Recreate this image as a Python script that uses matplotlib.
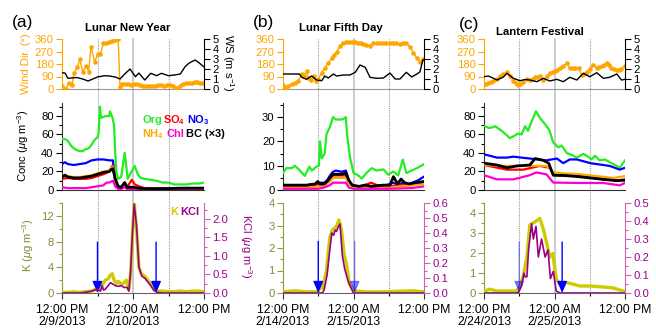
import numpy as np
import matplotlib
matplotlib.use("Agg")
import matplotlib.pyplot as plt
from matplotlib.lines import Line2D
from matplotlib import transforms
from matplotlib.ticker import MultipleLocator, FormatStrFormatter

plt.rcParams['font.family'] = ['Liberation Sans', 'DejaVu Sans']
plt.rcParams['mathtext.fontset'] = 'custom'
plt.rcParams['mathtext.rm'] = 'Liberation Sans'
plt.rcParams['mathtext.bf'] = 'Liberation Sans:bold'
plt.rcParams['mathtext.it'] = 'Liberation Sans:italic'

# ---------------- data (hours after 12:00 PM) ----------------
panel_letters = ["(a)", "(b)", "(c)"]
panel_titles = ["Lunar New Year", "Lunar Fifth Day", "Lantern Festival"]
xtick_hours = [0, 12, 24]
xtick_labels_a = ["12:00 PM\n2/9/2013", "12:00 AM\n2/10/2013", "12:00 PM"]
xtick_labels_b = ["12:00 PM\n2/14/2013", "12:00 AM\n2/15/2013", "12:00 PM"]
xtick_labels_c = ["12:00 PM\n2/24/2013", "12:00 AM\n2/25/2013", "12:00 PM"]
grid_hours = [6, 12, 18]

# --- panel a ---
a_wd_h = [0, 0.6, 1.2, 1.7, 2.0, 2.6, 3.0, 3.5, 4.1, 4.5, 4.9, 5.5, 6.1, 6.5, 7.0, 7.5, 7.9, 8.4, 9.0, 9.5,
          9.8, 10.2, 10.7, 11.2, 11.7, 12.2, 12.7, 13.2, 13.7, 14.2, 14.7, 15.2, 15.7, 16.2, 16.7, 17.2, 17.7,
          18.2, 18.7, 19.2, 19.5, 19.9, 20.4, 20.9, 21.4, 21.9, 22.4, 22.9, 23.4, 23.9]
a_wd = [22, 2, 46, 29, 113, 156, 213, 125, 165, 125, 305, 197, 252, 249, 329, 333, 338, 346, 350, 357,
        15, 35, 35, 33, 32, 33, 35, 30, 22, 20, 20, 22, 25, 27, 28, 25, 27,
        26, 22, 8, 2, 25, 38, 40, 40, 42, 50, 48, 45, 40]
a_ws_h = [0, 0.5, 1.0, 1.5, 2.5, 3.5, 4.4, 5.0, 6.0, 7.2, 8.0, 9.0, 9.8, 10.6, 11.5, 12.4, 13.0, 13.4, 14.0,
          15.0, 16.0, 16.8, 18.0, 19.0, 20.0, 20.8, 21.5, 22.5, 23.2, 24.0]
a_ws = [1.63, 1.6, 1.07, 1.1, 1.15, 1.0, 0.8, 0.95, 1.2, 1.33, 1.3, 1.2, 1.0, 1.5, 2.0, 1.23, 1.6, 1.3, 0.9,
        1.57, 1.33, 1.57, 1.33, 1.4, 1.5, 2.23, 2.6, 2.9, 2.6, 2.2]

a_org_h = [0, 0.5, 1, 1.5, 2, 2.5, 3, 3.5, 4, 4.5, 5, 5.5, 6, 6.2, 6.4, 6.6, 7, 7.5, 8, 8.1, 8.5, 8.8,
           9.0, 9.2, 9.5, 10.0, 10.6, 11.1, 11.6, 12.3, 12.8, 13.3, 14, 15, 16, 17, 18, 19, 20, 21, 22, 23, 24]
a_org = [55, 55, 53, 48, 45, 43, 42, 42, 44, 45, 49, 54, 57, 62, 90, 78, 79, 80, 80, 85, 79, 70,
         40, 20, 12, 14, 40, 12, 18, 26, 17, 13, 12, 11, 10, 8, 8, 6, 6, 6, 7, 7, 8]
a_no3_h = [0, 0.5, 1, 2, 3, 4, 5, 6, 7, 8, 8.6, 9.0, 9.5, 10, 10.6, 11, 12, 13, 14, 16, 18, 20, 22, 24]
a_no3 = [28, 30, 28, 27, 28, 29, 32, 33, 33, 32, 32, 10, 3, 3, 8, 3, 2, 2, 2, 2, 1.5, 1.5, 2, 2]
a_bc_h = [0, 0.5, 1, 2, 3, 4, 5, 6, 7, 8, 8.3, 8.6, 9, 9.5, 10, 10.6, 11, 12, 13, 14, 16, 18, 20, 22, 24]
a_bc = [14, 16, 14, 13, 13, 14, 15, 17, 19, 20, 22, 23, 12, 4, 3, 8, 3, 3, 2, 1.5, 1.5, 1.5, 2, 2, 2]
a_nh4 = [15, 16, 15, 14, 14, 15, 16, 18, 20, 21, 24, 25, 10, 2, 1, 5, 1, 2, 2, 1.5, 1.5, 1, 1.5, 1.5, 1.5]
a_so4_h = [0, 1, 2, 3, 4, 5, 6, 7, 8, 8.3, 8.6, 9, 9.5, 10, 10.6, 11, 11.8, 12.3, 13, 14, 16, 18, 20, 22, 24]
a_so4 = [12, 13, 12, 12, 12, 13, 15, 17, 20, 24, 27, 10, 3, 2, 6, 3, 11, 6, 4, 2, 1.5, 1.5, 1.5, 1.5, 1.5]
a_chl_h = [0, 1, 2, 3, 4, 5, 6, 7, 7.5, 8, 8.6, 9, 9.5, 10, 10.6, 11, 12, 14, 16, 18, 20, 22, 24]
a_chl = [3, 2, 2, 2, 2, 3, 4, 5, 8, 8, 10, 4, 1, 1, 3, 1, 1, 0.8, 0.5, 0.5, 0.5, 0.5, 0.5]

a_k_h = [0, 1, 2, 3, 4, 5, 5.5, 6, 6.5, 7, 7.3, 7.8, 8.2, 8.5, 8.8, 9.2, 9.5, 10, 10.4, 10.9, 11.3, 11.6,
         11.9, 12.2, 12.6, 13.0, 13.4, 14, 14.5, 15, 15.6, 16, 17, 18, 19, 20, 21, 22, 23, 24]
a_k = [0.1, 0.1, 0.2, 0.1, 0.2, 0.3, 0.5, 0.5, 1.0, 1.5, 2.0, 2.2, 2.8, 3.0, 2.0, 1.5, 1.8, 1.4, 1.5, 2.0, 0.5, 3.0,
       9.0, 14.0, 10.0, 4.0, 3.0, 2.6, 2.0, 1.4, 0.5, 0.3, 0.3, 0.2, 0.2, 0.3, 0.2, 0.3, 0.3, 0.2]
a_kcl_h = [0, 1, 2, 3, 4, 5, 5.5, 6, 6.5, 6.8, 7, 7.3, 7.8, 8.2, 8.5, 9, 9.5, 10, 10.5, 11, 11.3, 11.6, 11.9,
           12.2, 12.6, 13, 13.5, 14, 14.5, 15, 15.5, 16, 17, 24]
a_kcl = [0, 0, 0, 0, 0.02, 0.05, 0.08, 0.1, 0.05, 0.2, 0.08, 0.1, 0.2, 0.28, 0.25, 0.2, 0.18, 0.2, 0.15, 0.15,
         0.05, 0.6, 1.6, 2.4, 1.8, 0.7, 0.45, 0.4, 0.3, 0.2, 0.08, 0.02, 0, 0]
a_arrow_h = [6.0, 15.9]
a_arrow_top = [7.9, 7.9]

# --- panel b ---
b_wd_h = [0, 0.34, 0.9, 1.5, 2.0, 2.6, 3.2, 3.6, 4.0, 4.3, 4.7, 5.2, 5.6, 6.0, 6.6, 7.1, 7.7, 8.3, 8.7, 9.2,
          9.7, 10.2, 10.7, 11.2, 11.7, 12.2, 12.7, 13.2, 13.7, 14.2, 14.8, 15.4, 16.0, 16.5, 17.0, 17.6, 18.2,
          18.7, 19.3, 19.9, 20.5, 21.0, 21.6, 22.2, 22.8, 23.3, 23.9]
b_wd = [29, 5, 22, 36, 46, 58, 108, 94, 130, 77, 65, 94, 55, 70, 118, 149, 190, 221, 245, 269,
        310, 334, 341, 340, 338, 336, 332, 328, 322, 317, 312, 329, 332, 330, 334, 334, 330,
        332, 328, 324, 328, 329, 305, 262, 221, 197, 214]
b_ws_h = [0, 1, 2, 2.8, 3.2, 4.0, 4.9, 5.7, 6.6, 7.1, 7.7, 8.6, 9.1, 10.3, 11.4, 12.3, 13.1, 14.0, 14.8, 15.9,
          17.1, 18.2, 19.1, 19.9, 21.0, 21.9, 22.8, 23.3, 23.8, 24.0]
b_ws = [1.5, 1.5, 1.5, 1.5, 1.17, 0.97, 1.3, 0.9, 0.83, 1.3, 1.1, 1.5, 1.3, 1.4, 1.4, 1.67, 2.4, 2.17, 1.17, 1.07,
        1.1, 1.6, 1.0, 1.0, 1.67, 1.2, 1.5, 1.7, 2.9, 2.9]

b_org_h = [0, 0.6, 1.5, 2.0, 2.9, 3.7, 4.5, 4.9, 5.7, 6.1, 6.3, 6.6, 7.1, 7.4, 8.0, 8.5, 9.0, 9.5, 10.0, 10.5,
           10.7, 10.9, 11.4, 12.0, 12.8, 13.4, 14.2, 15.1, 15.9, 17.1, 17.9, 18.8, 19.6, 20.4, 21.0, 21.9, 22.8, 23.9]
b_org = [7, 9, 9, 10, 8, 5.8, 9.6, 8, 9.6, 10, 20, 13, 15, 23, 26, 30, 29, 29, 29, 29.5,
         30, 23, 13.5, 7, 6, 4.7, 7, 9, 8, 8.5, 6.3, 7.6, 6, 12.5, 7, 8, 9, 10.5]
b_no3_h = [0, 2, 4, 5.5, 6, 7, 7.5, 8, 8.5, 9, 10, 10.7, 11.2, 11.8, 13, 15, 17, 18.8, 19.5, 20.4, 21, 22, 23, 24]
b_no3 = [2, 2, 2, 2.5, 3, 3, 4, 6, 7.5, 8, 7.5, 8, 4, 1.5, 1.5, 1.5, 1.5, 3, 2, 3, 2, 3, 4, 5.5]
b_bc_h = [0, 2, 4, 5.5, 5.9, 6.3, 7, 7.5, 8, 8.5, 9, 10, 10.7, 11.2, 11.8, 13, 14, 15, 17, 18.2, 18.8, 19.5,
          20.1, 20.7, 21.5, 22.5, 24]
b_bc = [2, 2, 2, 2.5, 3.5, 2.5, 2.5, 3.5, 5, 6.5, 6.5, 6.5, 7, 4, 2, 1.5, 2, 1.5, 2, 2, 5.5, 2.5,
        4.5, 3, 2.5, 3, 3.5]
b_nh4_h = [0, 4, 6, 7, 8, 8.5, 10, 10.7, 11.2, 11.8, 14, 18, 20, 22, 24]
b_nh4 = [1, 1, 1.5, 1.5, 3.5, 5, 5, 5, 2.5, 1, 1, 1, 1.5, 2, 2.5]
b_so4_h = [0, 4, 6, 7, 8, 8.5, 10, 10.7, 11.2, 11.8, 13, 14.5, 15, 16, 18, 20, 22, 24]
b_so4 = [1.5, 1.5, 2, 2, 4.5, 6, 6, 6, 3, 1.5, 1.5, 2.5, 3, 2, 1.5, 2, 2, 3]
b_chl_h = [0, 6, 7, 8, 8.5, 10, 10.7, 11.2, 12, 18, 22, 24]
b_chl = [0.5, 0.5, 1, 2, 3, 3, 3, 1, 0.5, 0.5, 0.8, 1.5]

b_k_h = [0, 2, 4, 6, 6.3, 6.7, 7.0, 7.4, 7.7, 8.0, 8.4, 8.85, 9.2, 9.5, 9.8, 10.0, 10.4, 10.8, 11.3, 12, 14,
         17, 20, 22, 24]
b_k = [0.05, 0.1, 0.05, 0.05, 0.3, 0.2, 0.5, 1.0, 1.8, 2.5, 2.8, 2.9, 3.0, 3.25, 3.0, 2.7, 1.7, 1.3, 0.4, 0.1,
       0.05, 0.05, 0.08, 0.1, 0.05]
b_kcl_h = [0, 6, 6.7, 7.0, 7.5, 8.0, 8.3, 8.6, 8.9, 9.1, 9.4, 9.7, 10.1, 10.5, 11, 11.4, 12, 24]
b_kcl = [0, 0, 0, 0.02, 0.12, 0.3, 0.4, 0.385, 0.42, 0.41, 0.44, 0.46, 0.25, 0.16, 0.09, 0.05, 0, 0]
b_arrow_h = [6.0, 12.2]
b_arrow_top = [2.3, 2.3]

# --- panel c ---
c_wd_h = [0, 0.4, 0.74, 1.2, 1.6, 2.2, 2.7, 3.3, 3.9, 4.4, 5.0, 5.4, 5.8, 6.2, 6.7, 7.3, 7.8, 8.3, 8.7, 9.1,
          9.5, 10.1, 10.7, 11.2, 11.7, 12.1, 12.5, 12.9, 13.5, 14.1, 14.6, 15.1, 15.5, 16.1, 16.6, 17.0, 17.5,
          18.0, 18.6, 19.2, 19.6, 20.0, 20.5, 20.9, 21.3, 21.7, 22.2, 22.6, 23.0, 23.4, 24.0]
c_wd = [36, 38, 43, 48, 55, 72, 91, 110, 120, 96, 55, 40, 31, 35, 48, 72, 67, 75, 86, 88,
        91, 67, 91, 115, 120, 127, 140, 151, 163, 187, 151, 150, 151, 151, 103, 110, 120,
        144, 175, 151, 158, 163, 170, 187, 170, 151, 145, 139, 140, 144, 168]
c_ws_h = [0, 0.74, 1.5, 2.2, 3.3, 3.9, 5.0, 6.1, 7.0, 7.8, 9.0, 10.1, 11.2, 12.4, 13.5, 14.6, 15.8, 16.9,
          18.0, 19.2, 20.3, 21.4, 22.6, 23.4, 24.0]
c_ws = [1.23, 1.3, 1.1, 0.9, 1.2, 1.57, 1.07, 0.83, 0.95, 0.9, 0.73, 1.07, 0.8, 0.97, 0.73, 1.17, 0.9, 1.57,
        1.23, 1.63, 1.07, 1.17, 1.5, 0.9, 0.97]

c_org_h = [0, 0.8, 1.6, 1.9, 3.0, 3.9, 4.4, 5.0, 5.8, 6.4, 7.0, 7.5, 8.1, 8.85, 9.5, 10.4, 11.1, 11.8, 12.7,
           13.2, 14.1, 15.2, 15.8, 16.9, 17.5, 18.3, 18.9, 19.7, 20.6, 21.4, 22.6, 23.1, 24.0]
c_org = [69.5, 67, 68, 69, 64, 59, 56, 58, 61, 60, 69, 64, 74, 85, 78, 71, 65, 51, 46,
         48, 40, 37, 35, 39, 37, 33, 37, 32, 33, 30, 26, 24, 32]
c_no3_h = [0, 2.2, 3.9, 5.0, 7.8, 10.6, 12.4, 13.5, 14.6, 15.8, 18.1, 20.3, 21.4, 23.1, 24.0]
c_no3 = [38.6, 35, 35, 36, 34, 32, 34, 29, 33, 33, 29, 27, 26, 22, 24]
c_bc_h = [0, 2.2, 3.9, 5.6, 7.8, 8.7, 10.1, 11.0, 11.8, 13.5, 15.8, 18.1, 20.3, 22.6, 24.0]
c_bc = [29, 27, 24, 26, 27, 34, 32, 29, 16, 15.7, 14.6, 13, 11.5, 10, 11]
c_nh4_h = [0, 3.9, 7.8, 10.6, 11.8, 13.5, 16.3, 19.2, 22.0, 24.0]
c_nh4 = [27, 26, 26, 26, 19, 18, 17, 15, 13, 15]
c_so4_h = [0, 3.9, 6.7, 9.5, 11.2, 11.8, 16.3, 20.3, 24.0]
c_so4 = [27, 22, 22, 26, 24, 16, 15, 11.5, 10]
c_chl_h = [0, 2.2, 5.0, 7.8, 8.9, 10.6, 11.8, 16.3, 20.3, 23.1, 24.0]
c_chl = [16, 11.5, 11.5, 16, 19, 17, 8, 7.6, 7.6, 5, 7.6]

c_k_h = [0, 1.0, 2.2, 4.4, 5.6, 6.1, 6.7, 7.3, 7.8, 8.7, 9.5, 10.1, 10.7, 11.2, 11.7, 12.3, 12.9, 14.1, 15.2,
         16.3, 18.0, 20.3, 22.0, 23.7, 24.0]
c_k = [0.1, 0.19, 0.1, 0.1, 0.1, 0.35, 0.86, 1.8, 3.4, 3.56, 3.73, 3.2, 2.46, 1.8, 1.97, 0.7, 0.44, 0.52, 0.44,
       0.35, 0.35, 0.3, 0.25, 0.1, 0.1]
c_kcl_h = [0, 5.5, 5.9, 6.4, 6.8, 7.0, 7.3, 7.6, 8.1, 8.4, 8.85, 9.25, 9.8, 10.4, 10.9, 11.3, 11.8, 12.3, 13, 24]
c_kcl = [0, 0, 0.005, 0.04, 0.11, 0.09, 0.09, 0.245, 0.385, 0.3, 0.37, 0.2, 0.3, 0.2, 0.24, 0.08, 0.12, 0.01, 0, 0]
c_arrow_h = [6.0, 13.3]
c_arrow_top = [2.55, 2.55]

# ---------------- style ----------------
C_WD = '#FFA500'
C_ORG = '#22EE22'
C_SO4 = '#FF0000'
C_NO3 = '#0000FF'
C_NH4 = '#FFA500'
C_CHL = '#FF00CC'
C_BC = '#000000'
C_K = '#CCCC00'
C_KAX = '#999944'
C_KLAB = '#88883A'
C_KCL = '#990088'
C_KCLAX = '#CC66AA'
FS = 8.1
FSX = 8.8
FSL = 7.9

W, H = 656, 328
fig = plt.figure(figsize=(W / 100, H / 100), dpi=100)

col_left = [62, 283, 484]
col_w = [142, 141, 141]
rows = {'top': (39, 89), 'mid': (103, 190), 'bot': (203, 293)}


def rect(col, row):
    t, b = rows[row]
    return [col_left[col] / W, 1 - b / H, col_w[col] / W, (b - t) / H]


panels = [
    dict(wd_h=a_wd_h, wd=a_wd, ws_h=a_ws_h, ws=a_ws,
         org=(a_org_h, a_org), no3=(a_no3_h, a_no3), so4=(a_so4_h, a_so4), nh4=(a_bc_h, a_nh4),
         chl=(a_chl_h, a_chl), bc=(a_bc_h, a_bc), mid_top=94, mid_major=20,
         k=(a_k_h, a_k), kcl=(a_kcl_h, a_kcl), k_top=14, k_major=4, k_minor=2,
         kcl_top=2.43, kcl_major=0.5, kcl_minor=0.25,
         arrows=(a_arrow_h, a_arrow_top), arrow_alpha=[1, 1], xl=xtick_labels_a),
    dict(wd_h=b_wd_h, wd=b_wd, ws_h=b_ws_h, ws=b_ws,
         org=(b_org_h, b_org), no3=(b_no3_h, b_no3), so4=(b_so4_h, b_so4), nh4=(b_nh4_h, b_nh4),
         chl=(b_chl_h, b_chl), bc=(b_bc_h, b_bc), mid_top=35.8, mid_major=10,
         k=(b_k_h, b_k), kcl=(b_kcl_h, b_kcl), k_top=4, k_major=1, k_minor=0.5,
         kcl_top=0.6, kcl_major=0.1, kcl_minor=0.05,
         arrows=(b_arrow_h, b_arrow_top), arrow_alpha=[1, 0.45], xl=xtick_labels_b),
    dict(wd_h=c_wd_h, wd=c_wd, ws_h=c_ws_h, ws=c_ws,
         org=(c_org_h, c_org), no3=(c_no3_h, c_no3), so4=(c_so4_h, c_so4), nh4=(c_nh4_h, c_nh4),
         chl=(c_chl_h, c_chl), bc=(c_bc_h, c_bc), mid_top=94, mid_major=20,
         k=(c_k_h, c_k), kcl=(c_kcl_h, c_kcl), k_top=4.5, k_major=1, k_minor=0.5,
         kcl_top=0.5, kcl_major=0.1, kcl_minor=0.05,
         arrows=(c_arrow_h, c_arrow_top), arrow_alpha=[0.45, 1], xl=xtick_labels_c),
]
title_pos = [(0.465, 1.22), (0.41, 1.22), (0.40, 1.14)]


def base_axes(ax):
    ax.set_xlim(0, 24)
    ax.patch.set_alpha(0)
    for s in ['top', 'right']:
        ax.spines[s].set_visible(False)
    ax.tick_params(axis='both', which='major', direction='out', length=4, width=0.8, labelsize=FS, pad=2)
    ax.tick_params(axis='both', which='minor', direction='out', length=2, width=0.8)


for i, p in enumerate(panels):
    # ---------- top: wind ----------
    ax = fig.add_axes(rect(i, 'top'))
    base_axes(ax)
    ax.plot(p['wd_h'], p['wd'], color=C_WD, lw=1.0, marker='o', ms=2.3, zorder=3)
    ax.set_ylim(0, 360)
    ax.set_yticks([0, 90, 180, 270, 360])
    ax.spines['left'].set_color(C_WD)
    ax.tick_params(axis='y', colors=C_WD, labelcolor=C_WD)
    ax.spines['bottom'].set_color('#999999')
    ax.set_xticks([])
    ax2 = ax.twinx()
    ax2.set_xlim(0, 24)
    ax2.patch.set_alpha(0)
    ax2.plot(p['ws_h'], p['ws'], color='black', lw=1.0, zorder=2)
    ax2.set_ylim(0, 5)
    ax2.set_yticks([0, 1, 2, 3, 4, 5])
    for s in ['left', 'top', 'bottom']:
        ax2.spines[s].set_visible(False)
    ax2.tick_params(axis='y', direction='out', length=4, width=0.8, labelsize=FS, pad=2)
    ax.text(title_pos[i][0], title_pos[i][1], panel_titles[i],
            transform=ax.transAxes, ha='center', va='center', fontsize=8.2, fontweight='bold')

    # ---------- middle: conc ----------
    ax = fig.add_axes(rect(i, 'mid'))
    base_axes(ax)
    ax.plot(*p['org'], color=C_ORG, lw=1.6, zorder=3)
    ax.plot(*p['no3'], color=C_NO3, lw=1.6, zorder=3)
    ax.plot(*p['so4'], color=C_SO4, lw=1.6, zorder=3)
    ax.plot(*p['nh4'], color=C_NH4, lw=1.6, zorder=3)
    ax.plot(*p['chl'], color=C_CHL, lw=1.6, zorder=3)
    ax.plot(*p['bc'], color=C_BC, lw=2.0, zorder=4)
    ax.set_ylim(0, p['mid_top'])
    ax.yaxis.set_major_locator(MultipleLocator(p['mid_major']))
    ax.yaxis.set_minor_locator(MultipleLocator(p['mid_major'] / 2))
    ax.set_xticks([])
    ax.spines['bottom'].set_color('#333333')
    ax.spines['left'].set_color('#333333')
    if i == 0:
        lg = [("Org", C_ORG, 0.565, 0.805), (r"SO$_\mathbf{4}$", C_SO4, 0.712, 0.805),
              (r"NO$_\mathbf{3}$", C_NO3, 0.878, 0.805),
              (r"NH$_\mathbf{4}$", C_NH4, 0.565, 0.644), ("Chl", C_CHL, 0.735, 0.644),
              ("BC (×3)", C_BC, 0.873, 0.644)]
        for t, c, x, y in lg:
            ax.text(x, y, t, color=c, transform=ax.transAxes, ha='left', va='center',
                    fontsize=FSL, fontweight='bold', clip_on=False)

    # ---------- bottom: K / KCl ----------
    ax = fig.add_axes(rect(i, 'bot'))
    base_axes(ax)
    ax.plot(*p['k'], color=C_K, lw=2.4, zorder=3)
    ax.set_ylim(0, p['k_top'])
    ax.yaxis.set_major_locator(MultipleLocator(p['k_major']))
    ax.yaxis.set_minor_locator(MultipleLocator(p['k_minor']))
    ax.spines['left'].set_color(C_KAX)
    ax.tick_params(axis='y', which='both', colors=C_KAX, labelcolor=C_KLAB)
    ax.spines['bottom'].set_color('#666666')
    ax.set_xticks(xtick_hours)
    ax.set_xticklabels(p['xl'], fontsize=FSX, linespacing=0.95)
    ax.xaxis.set_minor_locator(MultipleLocator(6))
    ax.tick_params(axis='x', which='major', pad=4, colors='#333333', labelcolor='black', labelsize=FSX)
    ah, at = p['arrows']
    for j in range(len(ah)):
        ax.annotate('', xy=(ah[j], 0), xytext=(ah[j], at[j]),
                    arrowprops=dict(arrowstyle='-|>,head_length=0.7,head_width=0.3', color='#0000FF',
                                    lw=1.0, shrinkA=0, shrinkB=0, alpha=p['arrow_alpha'][j]), zorder=6)
    ax3 = ax.twinx()
    ax3.set_xlim(0, 24)
    ax3.patch.set_alpha(0)
    ax3.plot(*p['kcl'], color=C_KCL, lw=1.2, zorder=4)
    ax3.set_ylim(0, p['kcl_top'])
    ax3.yaxis.set_major_locator(MultipleLocator(p['kcl_major']))
    ax3.yaxis.set_minor_locator(MultipleLocator(p['kcl_minor']))
    ax3.yaxis.set_major_formatter(FormatStrFormatter('%.1f'))
    for s in ['left', 'top', 'bottom']:
        ax3.spines[s].set_visible(False)
    ax3.spines['right'].set_color(C_KCLAX)
    ax3.tick_params(axis='y', which='major', direction='out', length=4, width=0.8, labelsize=FS, pad=2,
                    colors=C_KCLAX, labelcolor=C_KCL)
    ax3.tick_params(axis='y', which='minor', direction='out', length=2, width=0.8, colors=C_KCLAX)
    if i == 0:
        ax.text(0.765, 0.903, "K", color=C_K, transform=ax.transAxes, ha='left', va='center',
                fontsize=FSL, fontweight='bold')
        ax.text(0.835, 0.903, "KCl", color=C_KCL, transform=ax.transAxes, ha='left', va='center',
                fontsize=FSL, fontweight='bold')

    # ---------- vertical guide lines across rows ----------
    tr = transforms.blended_transform_factory(ax.transData, fig.transFigure)
    for g in grid_hours:
        if g == 12:
            ln = Line2D([g, g], [1 - 293 / H, 1 - 39 / H], transform=tr, color='#C8C8C8', lw=1.3, zorder=-5)
        else:
            ln = Line2D([g, g], [1 - 293 / H, 1 - 39 / H], transform=tr, color='#999999', lw=0.8,
                        ls=(0, (1, 1)), zorder=-5)
        fig.add_artist(ln)

    # panel letter
    fig.text([23, 263, 469][i] / W, 1 - [22, 22, 25][i] / H, panel_letters[i], fontsize=12.5,
             ha='center', va='center')

# axis labels (panel a only)
fig.text(26 / W, 1 - 64 / H, "Wind Dir. (°)", rotation=90, color=C_WD, fontsize=FS, ha='center', va='center')
fig.text(23 / W, 1 - 146 / H, r"Conc ($\mu$g m$^{-3}$)", rotation=90, fontsize=FS, ha='center', va='center')
fig.text(28 / W, 1 - 245 / H, r"K ($\mu$g m$^{-3}$)", rotation=90, color=C_KLAB, fontsize=FS,
         ha='center', va='center')
fig.text(228 / W, 1 - 63 / H, r"WS (m s$^{-1}$)", rotation=270, fontsize=FS, ha='center', va='center')
fig.text(246 / W, 1 - 246 / H, r"KCl ($\mu$g m$^{-3}$)", rotation=270, color=C_KCL, fontsize=FS,
         ha='center', va='center')

fig.savefig("out.png", dpi=100)
